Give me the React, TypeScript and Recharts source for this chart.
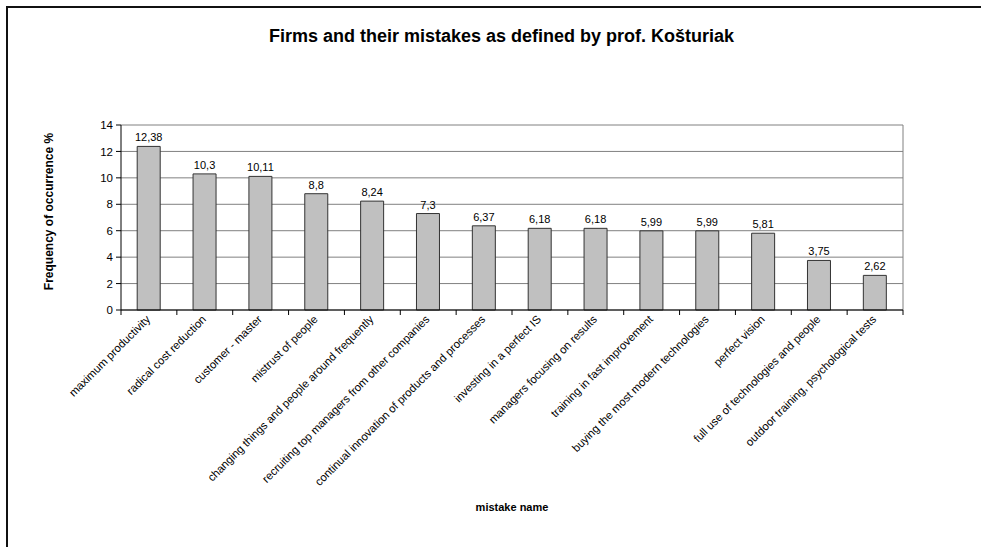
import { BarChart, Bar, XAxis, YAxis, CartesianGrid, LabelList, Label } from "recharts";

const mistakes = [
  "maximum productivity",
  "radical cost reduction",
  "customer - master",
  "mistrust of people",
  "changing things and people around frequently",
  "recruiting top managers from other companies",
  "continual innovation of products and processes",
  "investing in a perfect IS",
  "managers focusing on results",
  "training in fast improvement",
  "buying the most modern technologies",
  "perfect vision",
  "full use of technologies and people",
  "outdoor training, psychological tests",
];

const frequency = [12.38, 10.3, 10.11, 8.8, 8.24, 7.3, 6.37, 6.18, 6.18, 5.99, 5.99, 5.81, 3.75, 2.62];

const yTicks = [0, 2, 4, 6, 8, 10, 12, 14];

const data = mistakes.map((name, i) => ({ name, value: frequency[i] }));

const W = 981;
const H = 547;
const margin = { top: 125, right: 78, bottom: 37, left: 71 };
const Y_AXIS_W = 50;
const plotW = W - margin.left - margin.right - Y_AXIS_W;
const step = plotW / mistakes.length;
const FONT = "'Liberation Sans', Arial, sans-serif";

const XTick = (props: any) => {
  const { x, y, payload, index } = props;
  const left = x - step / 2;
  const right = x + step / 2;
  const ax = x + 2;
  const ay = y + 10;
  return (
    <g>
      <line x1={left} y1={y} x2={left} y2={y + 5} stroke="#000" />
      {index === mistakes.length - 1 && <line x1={right} y1={y} x2={right} y2={y + 5} stroke="#000" />}
      <text
        x={ax}
        y={ay}
        textAnchor="end"
        fontSize={11.3}
        fontFamily={FONT}
        fill="#000"
        transform={`rotate(-45, ${ax}, ${ay})`}
      >
        {payload.value}
      </text>
    </g>
  );
};

const fmt = (v: any) => String(v).replace(".", ",");

const App = () => {
  return (
    <div style={{ position: "absolute", left: 0, top: 0, width: W, height: H, background: "#fff", fontFamily: FONT }}>
      <div style={{ position: "absolute", left: 6, top: 6, right: 0, bottom: 0, borderTop: "2px solid #111", borderLeft: "2px solid #111" }} />
      <div
        style={{
          position: "absolute",
          left: 0,
          top: 26,
          width: 1003,
          textAlign: "center",
          fontSize: 18,
          fontWeight: "bold",
          color: "#000",
        }}
      >
        Firms and their mistakes as defined by prof. Košturiak
      </div>
      <BarChart width={W} height={H} data={data} margin={margin} barCategoryGap="29%">
        <CartesianGrid
          stroke="#808080"
          strokeWidth={1}
          verticalCoordinatesGenerator={({ offset }: any) => [offset.left + offset.width]}
        />
        <XAxis
          dataKey="name"
          interval={0}
          height={200}
          tickSize={0}
          tickMargin={0}
          tick={<XTick />}
          axisLine={{ stroke: "#000" }}
        >
          <Label
            value="mistake name"
            position="insideBottom"
            offset={0}
            dy={1}
            style={{ fontSize: 11, fontWeight: "bold", fontFamily: FONT, fill: "#000" }}
          />
        </XAxis>
        <YAxis
          width={Y_AXIS_W}
          domain={[0, 14]}
          ticks={yTicks}
          interval={0}
          tickSize={5}
          tickMargin={3}
          axisLine={{ stroke: "#000" }}
          tickLine={{ stroke: "#000" }}
          tick={{ fontSize: 11.5, fontFamily: FONT, fill: "#000" }}
        >
          <Label
            value="Frequency of occurrence %"
            angle={-90}
            position="insideLeft"
            offset={0}
            dx={-22}
            dy={-6}
            style={{ fontSize: 12, fontWeight: "bold", fontFamily: FONT, fill: "#000", textAnchor: "middle" }}
          />
        </YAxis>
        <Bar dataKey="value" fill="#c0c0c0" stroke="#333" strokeWidth={1} isAnimationActive={false}>
          <LabelList
            dataKey="value"
            position="top"
            offset={5}
            formatter={fmt}
            style={{ fontSize: 11, fontFamily: FONT, fill: "#000" }}
          />
        </Bar>
      </BarChart>
    </div>
  );
};

export default App;
